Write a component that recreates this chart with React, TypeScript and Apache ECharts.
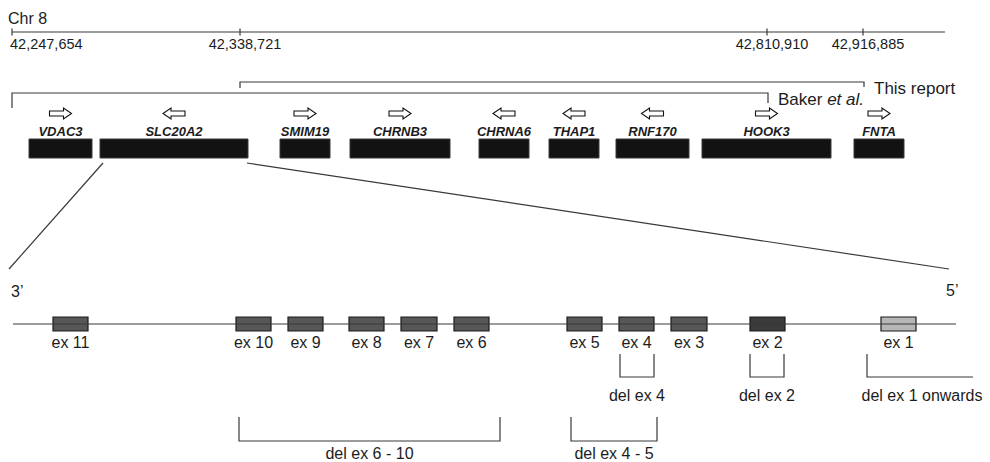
import React, { useEffect, useRef } from "react";
import * as echarts from "echarts";

// ---- Chromosome 8 ruler (schematic positions along the drawing) ----
const chromLabel = "Chr 8";
const chromSpan = [12, 945];
const chromTickPos = [12, 240, 767, 863];
const chromTickLabels = ["42,247,654", "42,338,721", "42,810,910", "42,916,885"];

// ---- Deleted regions (brackets) ----
const regionNames = ["This report", "Baker et al."];
const regionStart = [240, 12];
const regionEnd = [864, 768];

// ---- Genes in the region ----
const geneNames = ["VDAC3", "SLC20A2", "SMIM19", "CHRNB3", "CHRNA6", "THAP1", "RNF170", "HOOK3", "FNTA"];
const geneStart = [29, 100, 280, 350, 479, 549, 616, 702, 854];
const geneEnd = [92, 248, 330, 450, 529, 599, 689, 831, 904];
const geneStrand = [1, -1, 1, 1, -1, -1, -1, 1, 1];
const zoomedGene = "SLC20A2";

// ---- SLC20A2 exon structure ----
const exonSpan = [13, 956];
const exonEndLabels = ["3\u2019", "5\u2019"];
const exonNames = ["ex 11", "ex 10", "ex 9", "ex 8", "ex 7", "ex 6", "ex 5", "ex 4", "ex 3", "ex 2", "ex 1"];
const exonStart = [53, 236, 288, 349, 401, 454, 567, 619, 671, 750, 881];
const exonEnd = [88, 271, 323, 384, 437, 489, 602, 654, 707, 785, 916];
const exonShade = ["mid", "mid", "mid", "mid", "mid", "mid", "mid", "mid", "mid", "dark", "light"];

// ---- Deletions ----
const delNames = ["del ex 4", "del ex 2", "del ex 1 onwards", "del ex 6 - 10", "del ex 4 - 5"];
const delStart = [620, 750, 867, 239, 571];
const delEnd = [654, 784, 973, 500, 657];
const delTier = [1, 1, 1, 2, 2];
const delOpen = [false, false, true, false, false];

// ---- layout / style ----
const FONT = "'Liberation Sans', Arial, Helvetica, sans-serif";
const INK = "#1c1c1c";
const LINE = "#383838";
const LW = 1.2;
const Y = {
  chrom: 32,
  regionLine: [82, 93],
  regionDropL: [6, 15],
  regionDropR: [5, 10],
  arrow: 113.5,
  geneLabel: 131,
  geneTop: 139,
  geneBot: 158,
  zoomEnd: 269,
  endLabel: 291,
  exonLine: 324,
  exonTop: 317,
  exonBot: 331,
  exonLabel: 342.5,
  delTop: [0, 354, 417],
  delBot: [0, 377, 441],
  delLabel: [0, 395, 453],
};
const shadeFill: Record<string, string> = { mid: "#575757", dark: "#3b3b3b", light: "#b6b6b6" };

const zi = geneNames.indexOf(zoomedGene);

function txt(text: string, x: number, y: number, size: number, align = "center", extra: any = {}) {
  return {
    type: "text",
    style: {
      text,
      x,
      y,
      fill: INK,
      fontFamily: FONT,
      fontSize: size,
      align,
      verticalAlign: "middle",
      ...extra,
    },
  };
}

const option: any = {
  animation: false,
  backgroundColor: "#ffffff",
  title: {
    text: chromLabel,
    left: 8,
    top: 10,
    padding: 0,
    textStyle: { fontFamily: FONT, fontSize: 16, fontWeight: "normal", color: INK },
  },
  grid: { left: 0, right: 0, top: 0, bottom: 0 },
  xAxis: { type: "value", min: 0, max: 990, show: false },
  yAxis: { type: "value", min: 0, max: 462, inverse: true, show: false },
  series: [
    // chromosome ruler line
    {
      type: "line",
      silent: true,
      symbol: "none",
      lineStyle: { color: LINE, width: LW },
      data: [
        [chromSpan[0], Y.chrom],
        [chromSpan[1], Y.chrom],
      ],
    },
    // chromosome ticks + labels
    {
      type: "custom",
      silent: true,
      data: chromTickPos.map((p) => [p, Y.chrom]),
      renderItem: (params: any, api: any) => {
        const i = params.dataIndex;
        const [x, y] = api.coord([api.value(0), api.value(1)]);
        return {
          type: "group",
          children: [
            { type: "line", shape: { x1: x, y1: y - 3.5, x2: x, y2: y + 3.5 }, style: { stroke: LINE, lineWidth: LW } },
            txt(chromTickLabels[i], i === 0 ? x - 2 : x + 5, y + 12, 14.5, i === 0 ? "left" : "center"),
          ],
        };
      },
    },
    // deleted-region brackets
    {
      type: "custom",
      silent: true,
      data: regionStart.map((s, i) => [s, regionEnd[i], Y.regionLine[i]]),
      renderItem: (params: any, api: any) => {
        const i = params.dataIndex;
        const [x1, y] = api.coord([api.value(0), api.value(2)]);
        const [x2] = api.coord([api.value(1), api.value(2)]);
        const name = regionNames[i];
        const rich = name.includes("et al.");
        return {
          type: "group",
          children: [
            {
              type: "polyline",
              shape: {
                points: [
                  [x1, y + Y.regionDropL[i]],
                  [x1, y],
                  [x2, y],
                  [x2, y + Y.regionDropR[i]],
                ],
              },
              style: { stroke: LINE, lineWidth: LW, fill: "none" },
            },
            txt(
              rich ? name.replace("et al.", "{i|et al.}") : name,
              x2 + 10,
              y + 6,
              17,
              "left",
              rich ? { rich: { i: { fontStyle: "italic", fontSize: 17, fontFamily: FONT, fill: INK } } } : {}
            ),
          ],
        };
      },
    },
    // genes: box, strand arrow, name
    {
      type: "custom",
      silent: true,
      data: geneStart.map((s, i) => [s, geneEnd[i], geneStrand[i]]),
      renderItem: (params: any, api: any) => {
        const i = params.dataIndex;
        const [x1, yt] = api.coord([api.value(0), Y.geneTop]);
        const [x2, yb] = api.coord([api.value(1), Y.geneBot]);
        const ay = api.coord([0, Y.arrow])[1];
        const ly = api.coord([0, Y.geneLabel])[1];
        const cx = (x1 + x2) / 2;
        const d = api.value(2);
        const pts = [
          [-11, -2.5],
          [3, -2.5],
          [3, -5.5],
          [11, 0],
          [3, 5.5],
          [3, 2.5],
          [-11, 2.5],
        ].map(([dx, dy]) => [cx + dx * d, ay + dy]);
        return {
          type: "group",
          children: [
            { type: "rect", shape: { x: x1, y: yt, width: x2 - x1, height: yb - yt }, style: { fill: "#121212", stroke: "#3a3a3a", lineWidth: 1 } },
            { type: "polygon", shape: { points: pts }, style: { fill: "#ffffff", stroke: "#111", lineWidth: 1.1 } },
            txt(geneNames[i], cx, ly, 13, "center", { fontWeight: "bold", fontStyle: "italic" }),
          ],
        };
      },
    },
    // zoom lines from SLC20A2 to the exon map
    {
      type: "line",
      silent: true,
      symbol: "none",
      lineStyle: { color: LINE, width: LW },
      data: [
        [geneStart[zi] + 3, Y.geneBot + 5],
        [exonSpan[0] - 4, Y.zoomEnd],
      ],
    },
    {
      type: "line",
      silent: true,
      symbol: "none",
      lineStyle: { color: LINE, width: LW },
      data: [
        [geneEnd[zi] - 1, Y.geneBot + 5],
        [exonSpan[1] - 7, Y.zoomEnd],
      ],
    },
    // exon backbone
    {
      type: "line",
      silent: true,
      symbol: "none",
      lineStyle: { color: LINE, width: LW },
      data: [
        [exonSpan[0], Y.exonLine],
        [exonSpan[1], Y.exonLine],
      ],
    },
    // 3' / 5' ends
    {
      type: "custom",
      silent: true,
      data: [
        [exonSpan[0] - 2, Y.endLabel],
        [exonSpan[1] - 10, Y.endLabel - 1],
      ],
      renderItem: (params: any, api: any) => {
        const [x, y] = api.coord([api.value(0), api.value(1)]);
        return txt(exonEndLabels[params.dataIndex], x, y, 16, "left");
      },
    },
    // exons
    {
      type: "custom",
      silent: true,
      data: exonStart.map((s, i) => [s, exonEnd[i]]),
      renderItem: (params: any, api: any) => {
        const i = params.dataIndex;
        const [x1, yt] = api.coord([api.value(0), Y.exonTop]);
        const [x2, yb] = api.coord([api.value(1), Y.exonBot]);
        const ly = api.coord([0, Y.exonLabel])[1];
        return {
          type: "group",
          children: [
            { type: "rect", shape: { x: x1, y: yt, width: x2 - x1, height: yb - yt }, style: { fill: shadeFill[exonShade[i]], stroke: "#1a1a1a", lineWidth: 1.2 } },
            txt(exonNames[i], (x1 + x2) / 2, ly, 16),
          ],
        };
      },
    },
    // deletions
    {
      type: "custom",
      silent: true,
      data: delStart.map((s, i) => [s, delEnd[i], delTier[i]]),
      renderItem: (params: any, api: any) => {
        const i = params.dataIndex;
        const t = api.value(2);
        const [x1, yt] = api.coord([api.value(0), Y.delTop[t]]);
        const [x2, yb] = api.coord([api.value(1), Y.delBot[t]]);
        const ly = api.coord([0, Y.delLabel[t]])[1];
        const pts = delOpen[i]
          ? [
              [x1, yt],
              [x1, yb],
              [x2, yb],
            ]
          : [
              [x1, yt],
              [x1, yb],
              [x2, yb],
              [x2, yt],
            ];
        const lx = delOpen[i] ? (x1 + x2) / 2 + 2 : (x1 + x2) / 2;
        return {
          type: "group",
          children: [
            { type: "polyline", shape: { points: pts }, style: { stroke: LINE, lineWidth: LW, fill: "none" } },
            txt(delNames[i], lx, ly, 16),
          ],
        };
      },
    },
  ],
};

export default function App() {
  const ref = useRef<HTMLDivElement>(null);
  useEffect(() => {
    const chart = echarts.init(ref.current!, null, { renderer: "svg" });
    chart.setOption(option);
    return () => chart.dispose();
  }, []);
  return (
    <div
      ref={ref}
      style={{ position: "absolute", left: 0, top: 0, width: 990, height: 462, background: "#fff" }}
    />
  );
}
